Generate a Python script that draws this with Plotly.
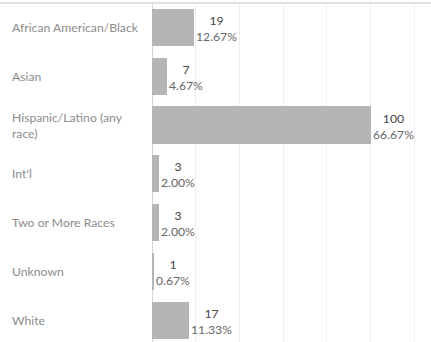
import plotly.graph_objects as go

# Enrollment by race/ethnicity
categories = [
    "African American/Black",
    "Asian",
    "Hispanic/Latino (any<br>race)",
    "Int'l",
    "Two or More Races",
    "Unknown",
    "White",
]
counts = [19, 7, 100, 3, 3, 1, 17]
percents = [12.67, 4.67, 66.67, 2.00, 2.00, 0.67, 11.33]

W, H = 431, 342
M_L, M_R, M_T, M_B = 152, 1, 3, 0
plot_w = W - M_L - M_R

fig = go.Figure(
    go.Bar(
        y=list(range(len(categories))),
        x=counts,
        orientation="h",
        width=0.76,
        marker=dict(color="#b5b5b5", line=dict(width=0)),
        hoverinfo="skip",
    )
)

# Count and share labels, centred as a block just right of each bar
for i, (c, p) in enumerate(zip(counts, percents)):
    fig.add_annotation(
        x=c,
        y=i,
        xref="x",
        yref="y",
        text=f"<span style='color:#444'>{c}</span><br>{p:.2f}%",
        xanchor="left",
        yanchor="middle",
        align="center",
        xshift=0,
        yshift=-1,
        showarrow=False,
        font=dict(family="Lato", size=12.2, color="#666"),
    )

# Category labels, left-aligned in the row header column
for i, cat in enumerate(categories):
    fig.add_annotation(
        x=(10 - M_L) / plot_w,
        xref="paper",
        y=i,
        yref="y",
        text=cat,
        xanchor="left",
        yanchor="middle",
        align="left",
        showarrow=False,
        font=dict(family="Lato", size=12.2, color="#8c8c8c"),
    )

# Header divider across the full width
fig.add_shape(
    type="line",
    xref="paper",
    yref="paper",
    x0=-M_L / plot_w,
    x1=1.0 + M_R / plot_w,
    y0=1,
    y1=1,
    line=dict(color="#d6d6d6", width=1.5),
)

fig.update_layout(
    width=W,
    height=H,
    margin=dict(l=M_L, r=M_R, t=M_T, b=M_B),
    paper_bgcolor="white",
    plot_bgcolor="white",
    showlegend=False,
    bargap=0,
    xaxis=dict(
        range=[0, 127.2],
        tickvals=[20, 40, 60, 80, 100, 120],
        showticklabels=False,
        showgrid=True,
        gridcolor="#efefef",
        gridwidth=1,
        zeroline=True,
        zerolinecolor="#d4d4d4",
        zerolinewidth=1,
        showline=False,
        fixedrange=True,
    ),
    yaxis=dict(
        range=[6.447, -0.5],
        showticklabels=False,
        showgrid=False,
        zeroline=False,
        showline=False,
        fixedrange=True,
    ),
)

fig.write_html("out.html")
